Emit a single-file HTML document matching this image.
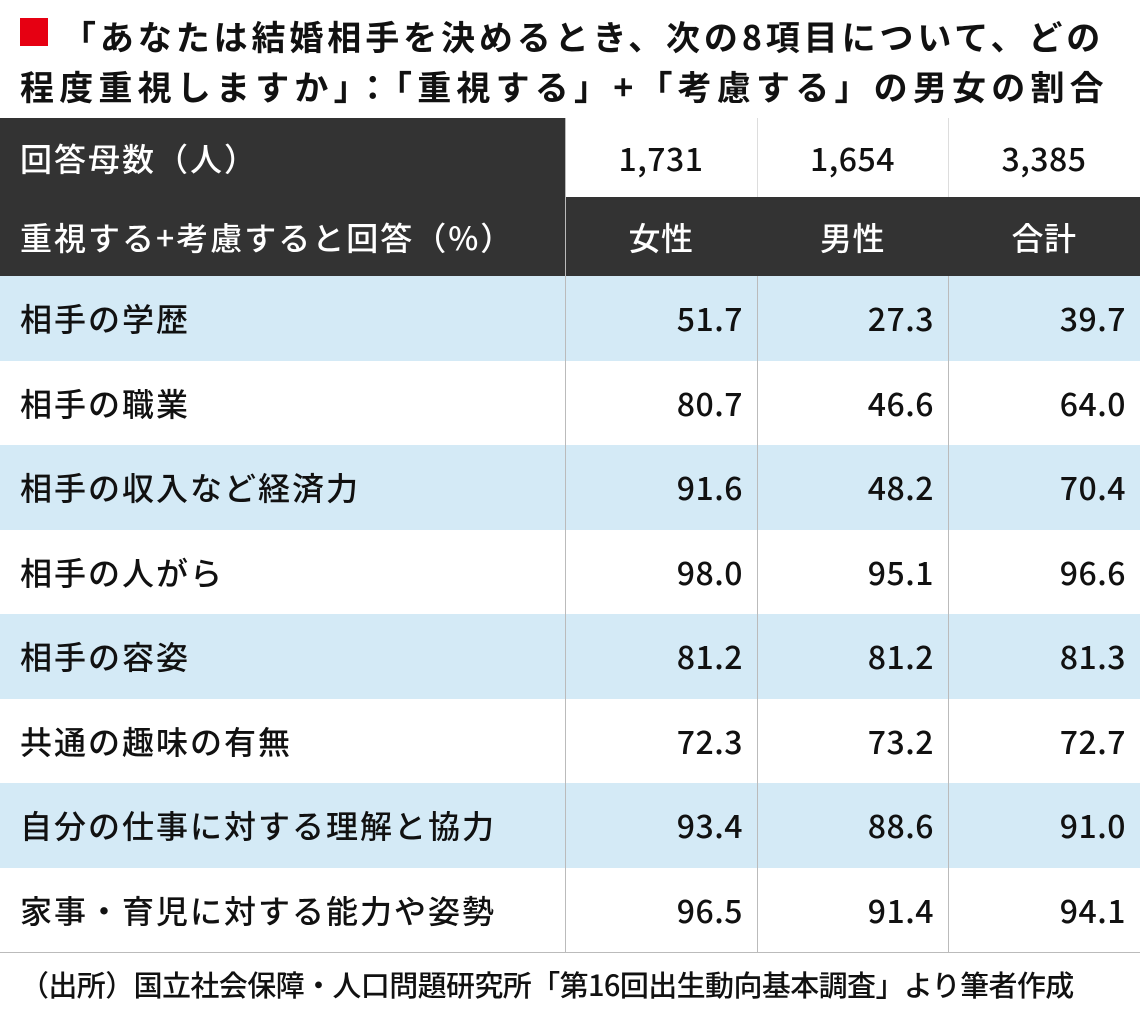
<!DOCTYPE html>
<html><head><meta charset="utf-8"><style>
*{margin:0;padding:0;box-sizing:border-box}
body{width:1140px;height:1012px;background:#fff;font-family:"Noto Sans CJK JP","Liberation Sans",sans-serif;position:relative;overflow:hidden;color:#111}
.t{position:absolute;left:20px;font-size:34px;font-weight:bold;line-height:48px;white-space:nowrap;letter-spacing:3.9px}
.sq{position:absolute;left:20px;top:18px;width:28px;height:28px;background:#e60012}
.c{position:absolute;display:flex;align-items:center;font-size:32px;font-weight:500;white-space:nowrap;letter-spacing:0.5px}
.l{padding-left:20px;letter-spacing:2px}
.r{justify-content:flex-end;padding-right:14px}
.m{justify-content:center}
.vl{position:absolute;width:1px;background:#bbb}
</style></head><body>
<div class="sq"></div>
<div class="t" style="top:12px;left:62px">「あなたは結婚相手を決めるとき、次の8項目について、どの</div>
<div class="t" style="top:62px;letter-spacing:5.2px">程度重視しますか」：「重視する」+「考慮する」の男女の割合</div>

<div style="position:absolute;left:0;top:118px;width:565px;height:158px;background:#333"></div>
<div style="position:absolute;left:565px;top:197px;width:575px;height:79px;background:#333"></div>
<div class="c l" style="left:0;top:118px;width:565px;height:79px;color:#fff">回答母数（人）</div>
<div class="c l" style="left:0;top:197px;width:565px;height:79px;color:#fff">重視する+考慮すると回答（%）</div>
<div class="c m" style="left:565px;top:118px;width:192px;height:79px">1,731</div>
<div class="c m" style="left:757px;top:118px;width:191px;height:79px">1,654</div>
<div class="c m" style="left:948px;top:118px;width:192px;height:79px">3,385</div>
<div class="c m" style="left:565px;top:197px;width:192px;height:79px;color:#fff">女性</div>
<div class="c m" style="left:757px;top:197px;width:191px;height:79px;color:#fff">男性</div>
<div class="c m" style="left:948px;top:197px;width:192px;height:79px;color:#fff">合計</div>
<div class="vl" style="left:565px;top:118px;height:834px"></div>
<div class="vl" style="left:757px;top:118px;height:79px;background:#ddd"></div>
<div class="vl" style="left:948px;top:118px;height:79px;background:#ddd"></div>

<div id="rows"></div>
<script>
var d=[["相手の学歴","51.7","27.3","39.7"],["相手の職業","80.7","46.6","64.0"],["相手の収入など経済力","91.6","48.2","70.4"],["相手の人がら","98.0","95.1","96.6"],["相手の容姿","81.2","81.2","81.3"],["共通の趣味の有無","72.3","73.2","72.7"],["自分の仕事に対する理解と協力","93.4","88.6","91.0"],["家事・育児に対する能力や姿勢","96.5","91.4","94.1"]];
var h="",h0=276,rh=84.5;
d.forEach(function(r,i){var y=h0+i*rh;
h+='<div style="position:absolute;left:0;top:'+y+'px;width:1140px;height:'+rh+'px;background:'+(i%2?'#fff':'#d4eaf6')+'"></div>';
h+='<div class="c l" style="left:0;top:'+y+'px;width:565px;height:'+rh+'px">'+r[0]+'</div>';
h+='<div class="c r" style="left:565px;top:'+y+'px;width:192px;height:'+rh+'px">'+r[1]+'</div>';
h+='<div class="c r" style="left:757px;top:'+y+'px;width:191px;height:'+rh+'px">'+r[2]+'</div>';
h+='<div class="c r" style="left:948px;top:'+y+'px;width:192px;height:'+rh+'px">'+r[3]+'</div>';});
h+='<div class="vl" style="left:565px;top:276px;height:676px"></div><div class="vl" style="left:757px;top:276px;height:676px"></div><div class="vl" style="left:948px;top:276px;height:676px"></div>';
h+='<div style="position:absolute;left:0;top:952px;width:1140px;height:1px;background:#bbb"></div>';
document.getElementById("rows").innerHTML=h;
</script>
<div class="c" style="left:20px;top:960px;height:48px;font-size:29px;letter-spacing:-0.6px">（出所）国立社会保障・人口問題研究所「第16回出生動向基本調査」より筆者作成</div>
</body></html>
